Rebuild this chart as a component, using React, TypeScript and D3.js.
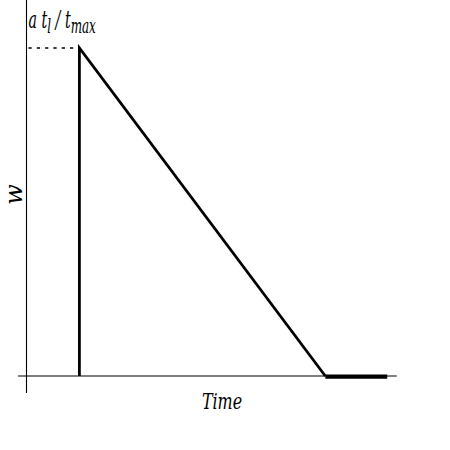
import React from "react";
import * as d3 from "d3";

const W = 450;
const H = 450;

// Pulse profile: time vs w
const times = [1, 1, 5.65, 6.82];
const values = [0, 1, 0, 0];

const xDomain = [0, 7];
const yDomain = [0, 1];
const axisXExtent = [-0.16, 7];
const axisYExtent = [-0.052, 1.146];

const peakLabel = { base: "a t", sub1: "l", mid: " / t", sub2: "max" };
const xLabel = "Time";
const yLabel = "w";

export default function App() {
  const x = d3.scaleLinear().domain(xDomain).range([26.5, 396.7]);
  const y = d3.scaleLinear().domain(yDomain).range([376, 48]);
  const font = "'DejaVu Serif', serif";

  const pulse =
    d3
      .line<number>()
      .x((_, i) => x(times[i]))
      .y((v) => y(v))(values.slice(0, 3)) || "";

  return (
    <svg
      width={W}
      height={H}
      style={{ position: "absolute", left: 0, top: 0, background: "#fff" }}
    >
      {/* axes */}
      <line x1={x(0)} x2={x(0)} y1={y(axisYExtent[1])} y2={y(axisYExtent[0])} stroke="#000" strokeWidth={1.1} />
      <line x1={x(axisXExtent[0])} x2={x(axisXExtent[1])} y1={y(0)} y2={y(0)} stroke="#000" strokeWidth={1.1} />
      {/* dashed guide */}
      <line
        x1={x(0) + 2}
        x2={x(times[1])}
        y1={y(values[1])}
        y2={y(values[1])}
        stroke="#000"
        strokeWidth={1.4}
        strokeDasharray="3.2,5.1"
      />
      {/* pulse */}
      <path d={pulse} fill="none" stroke="#000" strokeWidth={2.8} strokeLinejoin="miter" strokeMiterlimit={20} />
      <line
        x1={x(times[2])}
        x2={x(times[3])}
        y1={y(values[2]) + 0.6}
        y2={y(values[3]) + 0.6}
        stroke="#000"
        strokeWidth={4.4}
      />
      {/* labels */}
      <text
        transform="translate(28.5,28) scale(0.57,1)"
        fontFamily={font}
        fontStyle="italic"
        fontSize={25}
      >
        {peakLabel.base}
        <tspan fontSize={21} dy={5}>{peakLabel.sub1}</tspan>
        <tspan dy={-5}>{peakLabel.mid}</tspan>
        <tspan fontSize={21} dy={5}>{peakLabel.sub2}</tspan>
      </text>
      <text
        transform="translate(222,409) scale(0.74,1)"
        textAnchor="middle"
        fontFamily={font}
        fontStyle="italic"
        fontSize={21.5}
      >
        {xLabel}
      </text>
      <text
        transform="translate(22,194.5) rotate(-90)"
        textAnchor="middle"
        fontFamily={font}
        fontStyle="italic"
        fontSize={24}
      >
        {yLabel}
      </text>
    </svg>
  );
}
